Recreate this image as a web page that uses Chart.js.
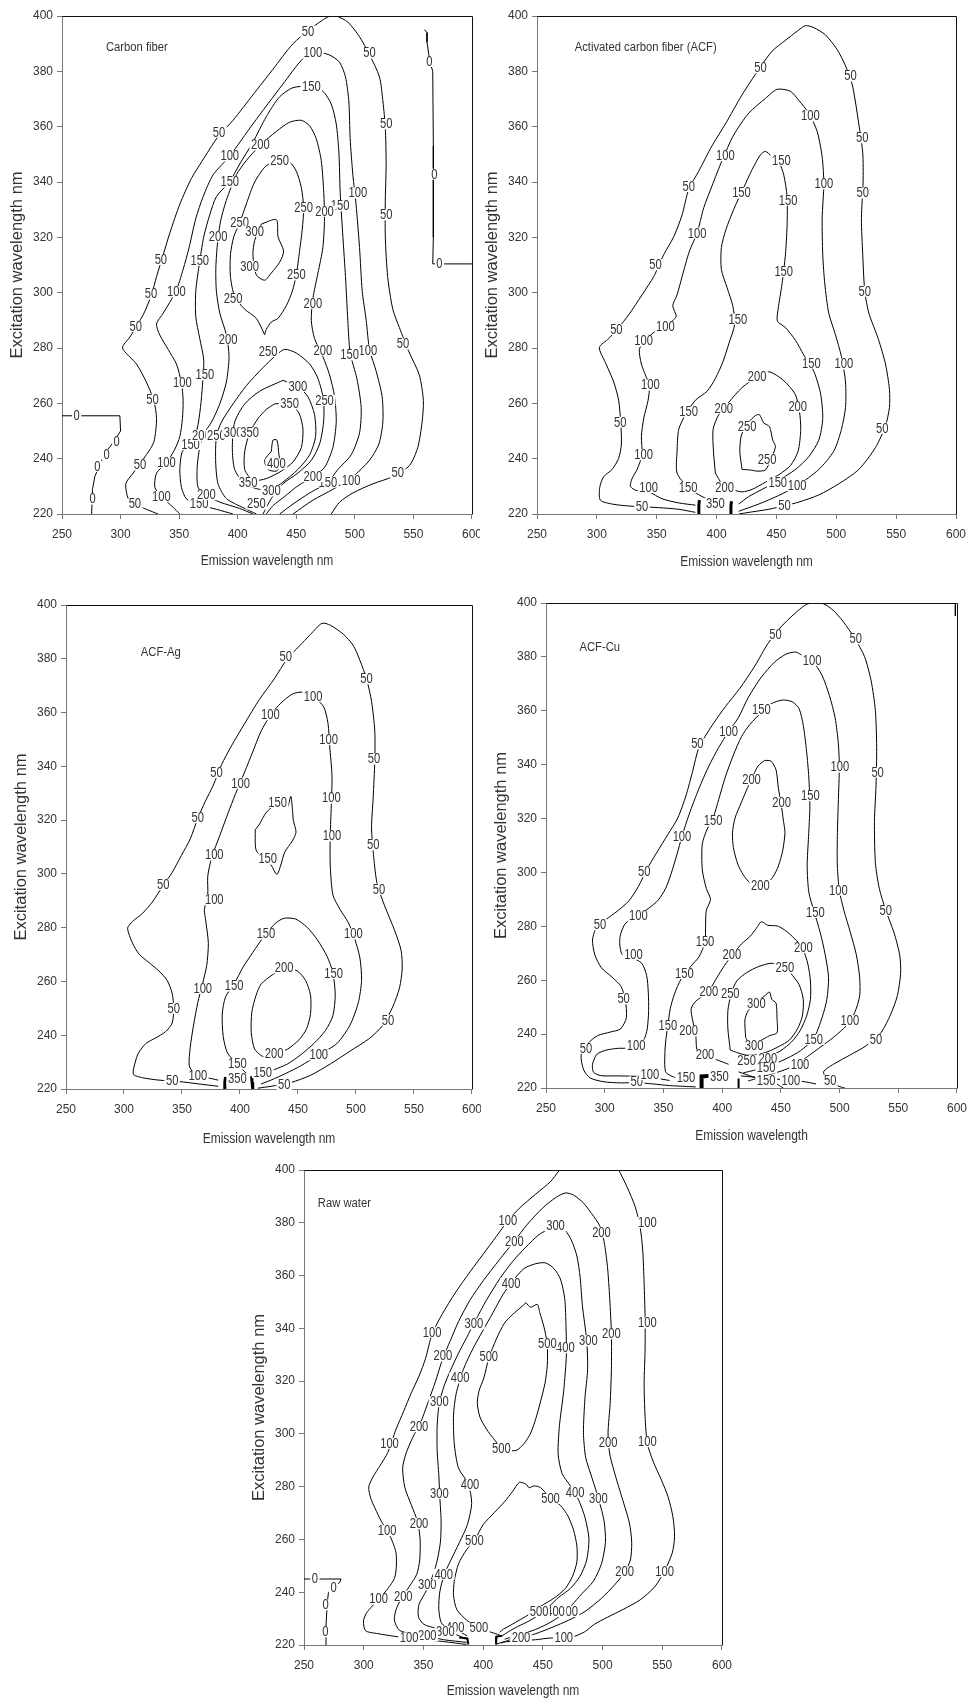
<!DOCTYPE html>
<html>
<head>
<meta charset="utf-8">
<script src="https://cdn.jsdelivr.net/npm/chart.js@4.4.1/dist/chart.umd.min.js"></script>
<style>
  body { margin: 0; background: #fff; width: 975px; height: 1704px; position: relative; overflow: hidden; }
  canvas { position: absolute; background: #fff; }
</style>
</head>
<body>
<canvas id="c1" width="490" height="575" style="left:0;top:0"></canvas>
<canvas id="c2" width="495" height="575" style="left:480px;top:0"></canvas>
<canvas id="c3" width="490" height="572" style="left:0;top:580px"></canvas>
<canvas id="c4" width="494" height="572" style="left:481px;top:580px"></canvas>
<canvas id="c5" width="500" height="552" style="left:240px;top:1152px"></canvas>
<script>
// axis ticks (nm)
const xTicks = [250, 300, 350, 400, 450, 500, 550, 600];
const yTicks = [220, 240, 260, 280, 300, 320, 340, 360, 380, 400];

// ---- Carbon fiber: contour lines as [emission, excitation] ----
const cf50 = [[332,220],[322,221.7],[312,223.6],[306.5,225.6],[304.5,231],[310.8,234.8],[322,241.4],[328.4,246],[330.7,254.5],[328.4,261],[322,267.7],[313.6,274.2],[301.7,280],[308,284],[319.3,292],[326.4,299.2],[330.7,305.8],[336.4,313.7],[342,321.5],[350.6,332],[360.5,341.3],[371.9,349.1],[383.2,356.4],[396,362.3],[413,371.5],[430,380.7],[447,389.9],[461.4,395.1],[477,399.7],[484,400],[494,397.8],[504,392.5],[512.5,386],[521,378],[524,368.9],[526,359.7],[526.7,346.5],[526,333.4],[526,320.2],[528,305.8],[532.4,294],[538,287.4],[546.6,278.2],[555,270.3],[558.5,261],[557.4,253.2],[553.7,244],[546.6,237.5],[532.4,233.5],[515.3,230.9],[498.3,227.6],[487,224.3],[479.8,220]];
const cf100 = [[350.6,220],[344.9,222.4],[335.5,226.1],[329.3,229.6],[330.7,234.8],[339.2,238.5],[346.3,243.4],[350.6,248],[352.8,254.5],[353.4,261.1],[352,267.3],[347.7,274.2],[340.6,279.5],[333.5,284.7],[330.7,288.7],[336.4,292.6],[347.2,300.5],[353.4,308.4],[358.5,316.3],[364.2,326.8],[370.5,334.7],[379,342.6],[393.2,349.4],[413,361],[438.6,375.4],[455.7,384.6],[467,386.9],[478.4,385.9],[486.9,383.3],[492,378],[494.9,368.9],[496,355.7],[498.3,342.6],[501,332],[504,316.3],[506.3,300.5],[509.7,290],[512.5,279.5],[518.2,271.6],[523.3,262.4],[523.9,253.2],[520.5,245.3],[512.5,239.4],[498.3,233.5],[481.2,228.9],[464.2,225],[447.2,220]];
const cf150 = [[396,220],[381.8,221.7],[367,223.3],[356.3,225.4],[352,229.6],[350.6,236.1],[352.8,242.7],[359.7,245.1],[365.3,250.6],[368.2,258.5],[369.9,266.4],[371,275.6],[367.6,283.4],[364.2,291.3],[364.2,300.5],[367,309.7],[371,320.2],[376.1,328.1],[381.8,334.7],[393.2,340.2],[401.7,346.5],[413,354.4],[424.4,363.6],[435.8,370.8],[447.2,374.1],[461.4,374.5],[472.7,372.8],[479.8,368.2],[484.1,361],[486.4,350.5],[487.5,336],[489.8,320.2],[492,305.8],[494,290],[496,278.2],[501.7,269],[505.4,258.5],[504,249.3],[496.9,241.4],[485.5,236.1],[477,231.5],[461.4,227.6],[447.2,223.6],[435.8,220]];
const cf200 = [[413,220],[401.7,222],[384.7,224.3],[373.3,226.7],[366.2,229.6],[365.3,236.1],[367,242.7],[370.5,248.6],[377.6,253.2],[384.7,259.8],[390.3,267.7],[392.6,276.9],[390.3,284.8],[384.7,292.6],[381.8,300.5],[381.3,308.4],[382.4,316.3],[385.2,325.5],[390.3,333.4],[398.9,342.6],[407.4,347.8],[418.8,353.1],[433,358.3],[444.3,361.6],[454.3,362.3],[461.4,360.3],[467,355.7],[471.3,347.8],[473.3,337.3],[474.1,326.8],[472.7,316.3],[468.5,307.1],[464.2,297.9],[462.8,290],[465.6,283.4],[472.7,276.9],[478.4,270.3],[482.7,262.4],[484.1,253.2],[481.2,244],[474.1,236.8],[464.2,233.5],[451.4,230.2],[440,226.3],[430.1,223],[424.4,220]];
const cf250a = [[423,284.8],[415.9,290.7],[406,294],[397.4,298.6],[393.8,305.8],[393.8,313.7],[396.6,320.2],[401.7,325.2],[407.4,332.1],[414.5,340],[424.4,345.9],[435.8,347.8],[444.3,347.2],[450,343.9],[454.3,338],[456.3,330.7],[455.1,322.9],[452.8,315],[450,306.4],[446.6,300.5],[441.5,295.3],[434.4,290.7],[428.7,289.4],[424.4,286.7],[423,284.8]];
const cf300a = [[420.2,324.8],[433,326.4],[434.4,320.2],[439.2,315],[435.8,311],[428.7,307.1],[423,304.5],[415.9,306.4],[413,313.7],[414.5,318.9],[420.2,324.8]];
const cf250b = [[416,220],[404.5,222.3],[390.3,225.6],[383.2,230.9],[381.2,238.8],[381.8,248],[386.1,253.2],[396,259.8],[407.4,266.4],[421.6,272.9],[433,277.5],[440.1,279.5],[450,278.2],[461.4,274.2],[468.5,269],[473.3,261.1],[473.3,253.2],[469.9,245.3],[462.8,239.4],[451.4,234.8],[438.6,230.9],[428.7,225.6],[421.6,220]];
const cf300b = [[438.6,268.3],[451.4,266.1],[459.9,262.4],[465.6,255.9],[466.5,248],[461.4,241.4],[451.4,236.1],[438.6,231.5],[428.7,228.9],[418.8,228.9],[406,230.9],[397.4,236.1],[395.4,244],[397.4,253.2],[406,259.8],[418.8,264.4],[438.6,268.3]];
const cf350 = [[431.5,259.8],[444.3,259.8],[452.3,256.5],[455.7,250.6],[454.3,244],[447.2,238.8],[437.2,235.5],[424.4,232.8],[413,232.2],[406,236.1],[406,242.7],[410.2,249.3],[417.3,254.5],[424.4,257.8],[431.5,259.8]];
const cf400 = [[428.7,242.7],[430.1,246.7],[433.5,246.7],[435.2,241.4],[436.4,237.5],[433,235.5],[425.9,236.1],[423,239.4],[428.7,242.7]];
const cf0a = [[559.4,395.1],[561.6,394],[561.6,390.5],[564,383.6],[566.5,380],[567,353],[567,320],[566.5,310.4],[600,310.4]];
const cf0b = [[250,255.5],[299.4,255.5],[300,250],[294,246],[288,242.7],[282.4,238.1],[278,233.5],[276,228.9],[275.3,220]];
const cfLabels = [[460,394.5,'50'],[384,358,'50'],[334.4,312,'50'],[325.9,299.5,'50'],[313,287.8,'50'],[327.3,261.5,'50'],[316.5,237.7,'50'],[312.2,223.6,'50'],[512.5,386.6,'50'],[526.7,361,'50'],[526.7,328.1,'50'],[541,281.5,'50'],[536.6,234.8,'50'],
  [464.2,386.6,'100'],[393.2,349.4,'100'],[347.7,300.3,'100'],[352.8,267.3,'100'],[339.2,238.5,'100'],[334.9,226.3,'100'],[502.6,336,'100'],[511.1,279.2,'100'],[496.9,232.2,'100'],
  [462.8,374.5,'150'],[393.2,340,'150'],[367.6,311.7,'150'],[371.9,270.3,'150'],[359.7,245.1,'150'],[367,223.6,'150'],[487.5,331.4,'150'],[495.5,277.5,'150'],[477,231.5,'150'],
  [419.3,353.4,'200'],[383.2,320.2,'200'],[391.8,283.2,'200'],[369,248.4,'200'],[373.3,227,'200'],[474.1,329.4,'200'],[464.2,296.2,'200'],[472.7,279.2,'200'],[464.2,233.5,'200'],
  [435.8,347.8,'250'],[401.7,325.2,'250'],[396,297.9,'250'],[456.3,330.7,'250'],[450,306.4,'250'],[425.9,278.8,'250'],[474.1,261.1,'250'],[381.8,248.4,'250'],[415.9,223.6,'250'],
  [414.5,322.2,'300'],[410.2,309.5,'300'],[451.4,266.1,'300'],[396,249.3,'300'],[428.7,228.3,'300'],
  [444.3,259.8,'350'],[410.2,249.3,'350'],[408.8,231.5,'350'],[433,238.1,'400'],
  [563.6,383.6,'0'],[567.9,342.8,'0'],[572.2,310.4,'0'],[262.5,255.5,'0'],[296.6,246,'0'],[288,241.4,'0'],[280.1,237.2,'0'],[276.1,225.4,'0']];

// ---- Activated carbon fiber (ACF) ----
const acf50 = [[382.3,220.6],[368.4,221.7],[351.7,222.3],[337.7,222.6],[323.8,223],[312.7,223.6],[302.9,225],[302.4,229.6],[305.7,233.5],[312.7,236.1],[318.2,240.1],[320.5,245.3],[319.9,253.2],[318.2,261.1],[314.1,267.7],[307.7,274.2],[302.1,280.2],[309.9,283.4],[318.2,287.4],[326.6,292],[337.7,299.2],[347.5,305.8],[355.8,313.7],[364.2,320.2],[371.2,328.1],[376.7,337.3],[385.1,343.9],[396.2,353.1],[407.4,361],[421.3,371.5],[435.2,380.7],[446.4,387.3],[457.5,391.2],[467.3,394.5],[474.2,396.5],[481.2,395.8],[490.9,393.2],[500.7,387.9],[507.7,382],[513.2,375.4],[516,368.9],[518.8,361],[522.1,350.5],[522.4,340],[521,326.8],[522.1,313.7],[523.8,300.5],[527.2,292.6],[535,283.4],[541.1,274.2],[544.4,265],[544.4,258.5],[541.1,251.9],[532.7,244],[518.8,236.1],[502.1,230.9],[485.4,226.9],[468.7,224.3],[456.7,223],[443.6,221.7],[424.1,220.4],[418.5,220]];
const acf100 = [[382.3,223.2],[368.4,224],[354.5,225.5],[343.3,228],[333,228.5],[328,230],[329.4,232.8],[333.6,236.1],[337.7,241.4],[337.2,248],[339.1,254.5],[342.8,261.1],[343.9,266.4],[340.5,270.3],[337.2,274.2],[335.5,279.5],[340.5,282.8],[348.9,286.1],[358.6,288.4],[366.2,291.3],[363.4,295.3],[367,299.2],[371.2,305.8],[377.3,315],[383.7,321.5],[389.3,330.7],[396.2,338.6],[404.6,347.8],[414.3,357],[426.9,364.9],[440.8,370.2],[450.6,373.5],[461.7,372.8],[468.7,369.5],[477,364.9],[484,358.3],[488.2,349.1],[489.6,339.3],[488.2,326.8],[488.7,313.7],[490.4,303.2],[493.7,292.6],[499.3,284.8],[504.3,276.9],[507.7,267.7],[507.7,258.5],[504.3,250.6],[497.9,242.7],[485.4,236.1],[467.3,230.2],[451.9,226.7],[435.2,223.6],[418.5,221]];
const acf150 = [[399,224.3],[387.9,226.3],[376.2,229.6],[367,234.8],[367,242.7],[368.4,250.6],[374,255.9],[382.3,261.1],[392.1,264.4],[399,269],[405.2,274.9],[410.2,281.5],[415.2,288.7],[413.5,295.3],[408.8,301.8],[404,308.4],[404,316.3],[407.9,322.9],[414.3,330.1],[422.7,338],[429.7,344.5],[436.6,349.8],[440.8,351.1],[446.4,349.1],[452,347.2],[456.1,342.6],[458.9,334.7],[458.9,324.2],[457.5,313.7],[454.7,303.2],[451.4,294],[450.8,289.7],[457.5,287.4],[465.9,282.8],[472.8,277.5],[481.2,271.6],[486.8,263.7],[488.7,254.5],[485.4,246.7],[477,240.7],[465.9,236.1],[452,232.2],[438,228.9],[426.9,226.3],[418.5,223.6]];
const acf200 = [[399,234.8],[397.4,242.7],[397.1,250.6],[401.8,255.9],[410.2,260.4],[421.3,265.7],[433.8,269.6],[443.6,271.4],[452,269.6],[458.9,267],[465.9,263.1],[469.2,257.2],[470.3,250.6],[468.1,242.7],[461.7,237.5],[452,234.2],[440.8,231.5],[429.7,228.9],[421.3,228],[413,228.9],[404.6,230.9],[399,234.8]];
const acf250 = [[421.3,236.1],[419.4,242.7],[420.8,248.6],[426.9,253.2],[432.5,255.6],[435.8,255.9],[439.4,252.9],[444.2,251.6],[446.9,246.7],[449.2,244.3],[445,239.4],[440.8,235.9],[433.8,235.5],[428.3,235.9],[421.3,236.1]];
const acfBlobL = [[384.6,220],[385.2,223],[385.6,225]];
const acfBlobR = [[411.5,220],[412,223],[412.5,224.6]];
const acfLabels = [[436.6,381.3,'50'],[376.7,338.4,'50'],[348.9,310.1,'50'],[316.3,286.7,'50'],[319.6,253.2,'50'],[337.7,222.6,'50'],[511.8,378.3,'50'],[521.6,356,'50'],[522.1,336,'50'],[523.8,300.5,'50'],[538.3,251,'50'],[456.7,223,'50'],
  [407.4,349.5,'100'],[383.7,321.5,'100'],[357.2,287.8,'100'],[339.1,282.5,'100'],[344.7,266.6,'100'],[339.1,241.4,'100'],[343.3,229.6,'100'],[478.4,363.9,'100'],[489.6,339.3,'100'],[506.3,274.2,'100'],[467.3,230.2,'100'],
  [454.2,347.8,'150'],[420.8,336,'150'],[459.7,333.4,'150'],[456.1,307.6,'150'],[417.7,290.4,'150'],[376.7,256.9,'150'],[479.2,274.5,'150'],[451.1,231.5,'150'],[376.2,229.6,'150'],
  [433.8,269.6,'200'],[406,258.2,'200'],[467.8,258.7,'200'],[406.8,229.6,'200'],
  [425.5,251.6,'250'],[442.2,239.8,'250'],[399,223.9,'350']];

// ---- ACF-Ag ----
const ag50 = [[381.3,221],[364.2,221.9],[347.2,222.8],[330.1,223.3],[315.9,224.2],[308,225.5],[309.7,230],[312.5,233.4],[318.8,236.9],[327.3,239],[335.8,241.3],[341.5,244.5],[342.9,250],[341.5,255.6],[337.2,260.4],[330.1,263.9],[321.6,267],[313.1,270.1],[307.4,274.2],[303.1,279.8],[307.4,282.3],[315.9,285.3],[324.4,289.5],[333.8,295.7],[341.5,300.5],[349.4,306.8],[357.1,313],[363.6,320.6],[369.9,326.8],[377,333],[384.1,340.6],[392.6,347.6],[404,355.9],[416.8,364.9],[429.5,372.5],[440.9,380.1],[450.9,384.6],[460.8,389.1],[470.7,393.2],[477.8,392.5],[489.2,389.1],[497.7,384.9],[503.4,379.4],[509.1,372.5],[513.4,364.2],[516.2,353.1],[516.2,342],[514.8,328.2],[513.4,317.1],[515.3,306.1],[518.2,296.4],[524.7,288.1],[533.2,279.1],[538.9,271.5],[539.8,264.6],[537.5,257.6],[531.8,250.7],[523.3,243.8],[511.9,238.9],[494.9,234.1],[477.8,229.3],[460.8,225.1],[443.8,222.4],[426.7,221],[415.3,220.3]];
const ag100 = [[381.3,223.3],[369.9,224.4],[361.4,225.5],[356.3,228.6],[357.1,235.5],[360,243.8],[363.6,252.1],[367.6,259],[371.3,265.9],[372.7,274.2],[370.5,282.5],[369.3,286.7],[372.2,292.2],[372.2,299.1],[375.6,306.1],[382.7,314.4],[389.8,322.7],[396,329.6],[404,337.9],[411.1,345.5],[418.2,353.1],[426.7,359.3],[435.2,363.5],[445.2,366.9],[453.7,367.6],[463.6,365.8],[472.2,362.1],[475.9,355.9],[477.3,347.6],[479.3,336.5],[478.7,325.4],[477.8,314.4],[477.8,303.3],[480.1,292.2],[486.4,286.7],[493.5,281.8],[499.1,275.6],[503.4,268.7],[504.8,260.4],[502,252.1],[494.9,243.8],[483.5,236.9],[467.9,232.7],[452.3,228.6],[439.5,225.8],[426.7,223.3],[418.2,221.9]];
const ag150a = [[413.1,316.4],[413.9,308.8],[421,305.4],[426.7,303.3],[431.8,299.8],[435.2,303.3],[438.6,308.1],[445.2,312.3],[448.3,315.5],[446,319.9],[445.2,324],[443.8,328.9],[440.9,324.7],[436.6,325.4],[429.5,325.4],[422.4,322.7],[416.8,318.5],[413.1,316.4]];
const ag150b = [[405.4,225.8],[397.7,229.3],[389.2,233.4],[385.5,239.6],[384.7,247.9],[387.5,254.2],[394.9,259],[402.6,265.3],[411.1,270.8],[421,277],[431,281.8],[438.1,283.5],[448,283.2],[458,280.1],[466.5,275.6],[475,269.4],[480.1,263.2],[482.1,254.9],[480.1,247.3],[473.6,241.7],[463.6,236.9],[452.3,232.7],[440.9,229.3],[429.5,227.2],[419.6,225.8],[412.5,224.4]];
const ag200 = [[418.2,232.4],[412.5,234.9],[409.7,241],[410.2,248.6],[413.9,254.9],[418.2,259],[428.1,262.5],[438.1,265],[449.4,263.9],[456.5,260.4],[460.8,254.9],[460.8,248],[457.4,242.4],[450.9,238.3],[440.9,234.8],[429.5,232.7],[423.9,231.6],[418.2,232.4]];
const agBlobL = [[386.3,220],[386.9,222.5],[387.5,224.5]];
const agBlobR = [[410,224.8],[410.4,222.5],[411,220]];
const agLabels = [[439.5,380.8,'50'],[379.8,337.6,'50'],[363.6,320.9,'50'],[333.8,296,'50'],[342.9,250,'50'],[341.5,223,'50'],[509.1,372.5,'50'],[515.6,342.7,'50'],[514.8,310.8,'50'],[519.9,294.3,'50'],[527.6,245.6,'50'],[438.1,221.7,'50'],
  [426.1,359.2,'100'],[463.1,366,'100'],[476.4,350,'100'],[400.6,333.7,'100'],[478.7,328.2,'100'],[479.3,314.1,'100'],[377.8,307,'100'],[377.8,290.4,'100'],[367.9,257.4,'100'],[497.7,277.7,'100'],[467.9,232.7,'100'],[363.6,224.8,'100'],
  [432.4,326.5,'150'],[423.9,305.5,'150'],[422.4,277.7,'150'],[394.9,258.3,'150'],[480.7,262.9,'150'],[397.7,229.3,'150'],[419.6,226.1,'150'],
  [438.1,265,'200'],[429.5,233,'200'],[397.7,223.7,'350']];

// ---- ACF-Cu ----
const cu50 = [[377.5,220.4],[355.2,220.9],[341.3,221.5],[327.3,222],[313.4,221.9],[299.4,222.3],[287.7,223.7],[282.1,226.7],[279.9,232.2],[285.4,236.4],[293.8,239.4],[305,240.8],[313.4,241.9],[318.4,246],[317.5,252.9],[313.9,257.7],[306.4,261.1],[297.2,264.6],[291.6,269.4],[289.6,274.9],[292.4,279],[300.8,282.4],[310.6,285.6],[320.3,289.3],[328.7,294.8],[335.7,301],[344.1,307.2],[353.8,314.1],[362.2,320.2],[369.2,328.5],[374.8,337.4],[380.3,346.4],[391.5,354.6],[402.7,361.5],[415.2,368.4],[427.8,376.6],[438.9,384.9],[450.1,391.1],[461.3,395.9],[471,399.3],[476.6,400],[486.4,399.7],[494.8,397.2],[503.1,393.1],[512.9,386.9],[521.3,380.1],[526.9,371.1],[530.5,360.1],[531.6,346.4],[531.1,332.6],[529.7,318.9],[530.5,303.7],[533.8,294.1],[539.4,285.9],[546.4,277.6],[551.2,269.4],[552,262.5],[549.2,254.2],[543.6,247.4],[535.2,240.5],[522.7,235.7],[508.7,232.2],[494.8,228.8],[486.4,226],[490.6,222.6],[500.3,220.5],[504.5,220]];
const cu100 = [[355.2,222.8],[344.1,223.6],[332.9,224.2],[321.7,224.4],[309.2,224.5],[296.6,224.6],[290.5,225.8],[289.6,228.8],[293.3,232.5],[300.8,234],[310.6,234.7],[318.9,234.8],[327.3,235.7],[333.4,238],[336.2,241.9],[337.4,248.7],[337.1,255.6],[335.7,261.8],[331.5,266.3],[321.7,268.7],[314.8,269.6],[312.8,273.5],[313.4,276.9],[317.5,281],[325.9,283.4],[337.1,286.6],[345.5,289.7],[351.9,294.1],[356.6,299.6],[361.4,306.5],[365.8,313.4],[371.9,321.6],[380.3,331.2],[388.7,339.5],[397.1,346.4],[405.5,352.3],[413.8,357.4],[422.2,364.9],[433.4,372.5],[444.5,378],[454.3,381],[462.7,381.8],[468.3,380.5],[476.6,378.7],[485,373.2],[491.4,365.6],[496.2,357.4],[499,347.7],[499.8,339.1],[499,327.1],[498.1,313.4],[498.1,302.4],[499.8,293.4],[503.7,285.9],[509.3,277.6],[514.3,269.4],[517.1,261.1],[517.1,254.2],[512.9,248],[505.9,243.2],[494.8,238.8],[482.2,234.7],[472.5,231.6],[464.1,228.8],[452.9,226.7],[441.7,225.1],[430.6,223.7],[422.2,222.6]];
const cu150 = [[377.5,222],[369.2,223.7],[359.4,224],[351.9,226],[351.3,233.6],[352.4,239.1],[353.8,243.2],[355.8,249.4],[359.4,254.9],[365,260.4],[373.4,265.2],[380.3,268.7],[385.4,274.2],[385.9,280.4],[386.5,285.9],[390.1,290],[386.5,294.1],[383.1,301],[383.1,310.6],[387.3,316.1],[392.3,320.2],[397.1,327.1],[402.7,335.4],[409.6,343.6],[416.6,350.5],[423.6,354.9],[433.4,359.4],[441.7,362.6],[451.5,364],[459.9,363.3],[465.5,360.8],[469.1,354.6],[471.9,345],[473.8,335.4],[474.7,324.4],[473.6,313.4],[472.4,302.4],[473.8,292.7],[478,285.9],[483.6,277.6],[487.8,269.4],[490.6,261.1],[489.2,252.9],[485,246],[478,238.4],[466.9,233.9],[455.7,231.1],[445.9,229.2],[436.2,227.4],[426.4,226.5],[418,225.6]];
const cu200a = [[436.2,341.6],[441.7,341.3],[445.9,338.1],[447.9,331.2],[450.1,325.7],[452.3,318.9],[453.5,314.7],[451.5,307.9],[447.9,302.4],[443.1,298.2],[437.5,295.8],[430.6,294.8],[423.6,296.2],[418,299.1],[413.3,303.1],[409.6,309.2],[408.8,314.7],[411,320.2],[416.1,325.7],[420.8,330.6],[425,334.7],[430.6,339.5],[436.2,341.6]];
const cu200b = [[405.5,228.8],[397.1,230.2],[385.4,232],[378.9,233.6],[377.5,239.8],[374.8,245.3],[373.6,249.4],[377.5,252.2],[383.7,254.2],[390.1,257],[395.7,261.1],[402.1,265.5],[409.6,270],[416.6,273.5],[423.6,276.2],[429.2,279.3],[433.4,281.7],[438.9,280.4],[447.3,280.1],[454.3,278.3],[461.3,275.6],[468.3,272.1],[473,266],[475.2,259.7],[475.2,252.9],[471.9,246.7],[466.3,241.2],[459.1,237.1],[450.1,233.9],[440.3,231.6],[430.6,229.8],[422.2,228.4]];
const cu250 = [[406.9,234.1],[404.9,241.9],[404.9,248.7],[407.7,255],[412.4,259.7],[420.8,262.8],[430.6,265],[441.7,266.3],[451.5,265.2],[458.5,262.5],[465.5,258.4],[469.1,252.9],[468.3,246.7],[464.1,241.9],[457.1,237.7],[448.7,235.5],[439,233.5],[429.2,232.3],[420.8,232.2],[412.4,233.2],[406.9,234.1]];
const cu300 = [[420,238.8],[419.4,245.3],[422.2,248.7],[429.2,251.8],[436.2,254.2],[440.3,255.6],[442.3,252.9],[445.9,251.5],[446.7,246],[446.7,240.5],[440.3,239.4],[433.4,237.7],[426.4,235.6],[422.2,237],[420,238.8]];
const cuFan1 = [[414,226],[426,224.2],[437.5,222.9],[446,221.6],[452,220]];
const cuFan2 = [[416,224.5],[440,223.5],[458.5,222.9],[472,222.2],[480,221.5]];
const cuBlock = [[382,220],[382.5,224.3],[389.5,224.5]];
const cuScatR = [[413.8,220],[414,223.5]];
const cuCorner = [[598.6,399.5],[598.6,395.2]];
const cuLabels = [[445.4,388.3,'50'],[378.9,347.7,'50'],[333.7,300.3,'50'],[296,280.6,'50'],[316.1,253.1,'50'],[284,234.7,'50'],[327.3,222.3,'50'],[513.7,386.7,'50'],[532.4,337.2,'50'],[539.4,285.9,'50'],[531,238,'50'],[492,222.9,'50'],
  [405.5,352.3,'100'],[365.8,313.4,'100'],[328.7,283.8,'100'],[324.5,269.6,'100'],[326.8,235.9,'100'],[338.5,225,'100'],[476.6,378.7,'100'],[500.3,339.1,'100'],[498.9,293.4,'100'],[508.7,245,'100'],[466.3,228.8,'100'],[458.5,222.9,'100'],
  [438.9,230.9,'200'],
  [433.4,360.5,'150'],[392.3,319.1,'150'],[385.4,274.2,'150'],[367.8,262.5,'150'],[353.8,243.2,'150'],[369.2,223.7,'150'],[475.2,328.5,'150'],[479.4,285.2,'150'],[478,238,'150'],[437.5,227.4,'150'],[437.5,222.9,'150'],
  [425,334.4,'200'],[450.7,326,'200'],[432.5,295.2,'200'],[408.2,269.4,'200'],[388.7,255.6,'200'],[371.4,241.2,'200'],[385.4,232.2,'200'],[469.1,272.1,'200'],
  [453.5,264.5,'250'],[406.9,254.9,'250'],[420.8,230.2,'250'],
  [429.2,251.3,'300'],[427.2,235.7,'300'],[397.6,224.3,'350']];

// ---- Raw water ----
const rw100a = [[386,220.2],[367,221.3],[350.5,222],[338.1,222.7],[325.7,223.3],[311.9,224.3],[301.5,225.4],[299.8,229.1],[302.3,232.1],[307,234.7],[313.3,237.7],[320.2,241.4],[325.7,245.2],[327.3,249.5],[327.1,254.8],[324.3,258.9],[320.2,262.9],[314.7,266.9],[309.7,271.6],[305.9,275.6],[304.2,279.9],[307.8,283.7],[313.3,287.7],[320.2,293],[327.1,301.8],[333.4,308.5],[339.5,315.2],[346.3,321.9],[351.8,328.6],[357.3,337.9],[365.6,345.3],[376.6,353.4],[389,361.4],[400,368.1],[411,374.8],[420.7,380.8],[430.3,385.5],[444.1,390.9],[456.4,395.6],[463.3,399.6],[463.9,400]];
const rw100b = [[513.6,400],[520.4,393.7],[527.3,386.1],[531.4,378.5],[533.6,369.7],[534.8,357.1],[535.6,344.4],[535.6,331.8],[534.8,319.2],[535.6,306.5],[537.5,296.4],[542.4,289.5],[549.3,282.5],[554.8,276.2],[558.9,268.6],[560.3,261],[558.3,254.8],[552,248.2],[543.8,242.1],[531.5,237.1],[517.7,233.6],[504,230.5],[493,227.8],[485,225],[474.3,223],[455.1,222.6],[444,222],[430,221.6],[416.5,221.1],[411,220.3]];
const rw200 = [[386.3,221],[367,222],[353.2,223.4],[339.5,224.3],[329.8,225.6],[325.7,229.4],[327.1,233.4],[331.2,237.4],[338.1,242.1],[344.4,246.8],[346.9,252.2],[347.2,260.2],[345,266.9],[340,272.9],[334.5,279.6],[332.6,287],[335.3,292.4],[340.8,298.4],[347.7,304.4],[353.2,311.1],[360.1,319.9],[366.2,328.6],[372.5,335.3],[379.4,342.6],[389,350.7],[400,358],[413.8,366.1],[426.2,373.1],[437.2,379.5],[449.6,385.5],[460.6,389.5],[468.8,391.3],[475.7,390.5],[484,387.5],[490.8,383.5],[497.7,378.8],[501.3,372.8],[504.1,363.4],[506,351.3],[507.4,337.9],[507.4,324.5],[506.3,311.1],[504.6,300.4],[506,292.4],[511.5,283],[517.8,273.6],[522.5,266.2],[524.4,258.9],[523.3,252.2],[518.4,247.5],[510.1,242.8],[499.1,237.7],[485.3,232.7],[471.6,229.4],[457.8,226.7],[444.1,224.3],[431.7,222.7],[422,221.9],[415.2,220.7]];
const rw300 = [[386.3,222.2],[378,223.8],[368.4,225.1],[360.1,226.4],[350.5,227.8],[345.8,230.7],[346.3,235.4],[351,239.4],[356,244.1],[360.9,250.8],[364.2,258.9],[364.8,266.9],[363.7,276.3],[362.9,284.3],[361.5,293.7],[361.5,303.1],[363.1,311.1],[367,317.8],[372.5,323.9],[379.4,330.6],[386.3,336.6],[393.1,342.6],[402.8,350.7],[413.8,358.7],[424.8,365.4],[435.8,370.8],[446.8,375.5],[456.4,377.9],[463.3,378.8],[468.8,377.1],[473.8,373.5],[478.5,367.4],[481.2,359.4],[483.1,348.7],[486.7,335.3],[487.5,324.5],[485.3,313.8],[484,300.4],[485.9,291],[491.4,283],[496.9,275],[501.3,266.9],[502.4,258.9],[499.1,250.8],[492.2,244.1],[482.6,239.4],[474,235],[466,231.5],[456,228.5],[446,226.3],[436,224.6],[426,223.3],[418,222.2]];
const rw400 = [[386.5,223.5],[376.6,226],[365.6,228],[362.9,233.4],[363.7,240.1],[367.5,246.8],[373,252.2],[380.2,258.9],[386.8,265.6],[390.4,273.6],[387.6,281],[379.4,287],[375.8,296.4],[375.2,307.1],[377.4,315.2],[383.5,324.5],[391.8,332.6],[400,339.3],[408.3,346],[416.5,352.7],[424.8,358],[434.4,362.7],[444.1,364.5],[452.3,364.8],[459.2,362.7],[464.7,358.7],[468.3,351.3],[469.4,340.6],[469.7,329.9],[467.5,316.5],[463.9,303.1],[462.8,292.4],[466.1,285],[473,280.3],[479.9,275],[485.3,268.3],[488.6,260.2],[486.7,252.2],[481.2,246.1],[473,241.4],[463.3,238.1],[455,234.5],[447,231.5],[438,229],[429,227],[421,225],[416,223.5]];
const rw500a = [[435.8,349.7],[439.9,348],[445.4,349.1],[447.4,346],[450.9,340.6],[453.7,333.9],[453.7,325.9],[451.8,319.2],[448.2,312.5],[444.1,305.8],[439.9,300.4],[434.4,296.4],[427.5,293.7],[416.5,294.4],[409.6,297.7],[402.8,301.8],[397.3,306.4],[395.1,311.8],[396.7,316.5],[400.6,321.2],[404.7,328.6],[411,335.9],[417.9,342],[424.8,345.3],[431.7,348],[435.8,349.7]];
const rw500b = [[413.8,223.8],[405.5,225],[396.4,226.4],[386.3,229.4],[378,233.4],[375.2,238.8],[375.8,244.1],[379.4,250.8],[386.3,256.2],[392.6,259.5],[400,265.6],[409.6,270.3],[417.9,274.3],[424.8,278.3],[430.3,281.6],[435.8,281],[438.5,279.6],[442.7,280.3],[448.2,279.6],[456.4,275.6],[464.7,272.9],[471,268.9],[475.7,263.6],[478.5,257.5],[478.5,251.5],[474.9,246.1],[468.8,241.4],[459.2,237.7],[448.2,234.7],[440,232],[431,229.6],[423,227.5],[417,226],[413.8,224.8]];
const rw0 = [[250,245],[281,245],[280,243.8],[274.7,241.6],[270.5,240],[269.5,236],[268.5,228],[268.4,220]];
const rwScatL = [[380,222.8],[386.8,222.5],[387.6,220.2]];
const rwScatR = [[416,223.5],[411.2,223.2],[410.8,220.2]];
const rwLabels = [[420.7,380.8,'100'],[357.3,338.5,'100'],[321.6,296.4,'100'],[319.6,263.3,'100'],[312.5,237.4,'100'],[537.6,380,'100'],[537.6,342,'100'],[537.6,297.1,'100'],[552,247.8,'100'],[467.5,222.7,'100'],
  [426.2,372.8,'200'],[366.2,329.5,'200'],[346.3,302.7,'200'],[346.3,266,'200'],[333.1,238.5,'200'],[499.1,376.4,'200'],[507.4,337.9,'200'],[504.6,296.7,'200'],[518.4,247.7,'200'],[431.7,222.7,'200'],
  [460.6,378.8,'300'],[392.3,341.7,'300'],[363.4,312.2,'300'],[363.4,277.4,'300'],[353.2,242.8,'300'],[488.1,335.3,'300'],[496.4,275.6,'300'],[471.6,232.7,'300'],
  [423.4,357,'400'],[380.7,321.2,'400'],[389,280.6,'400'],[367,246.8,'400'],[468.8,332.6,'400'],[477.1,277.9,'400'],[460.6,232.7,'400'],
  [404.7,329.2,'500'],[453.7,334.2,'500'],[415.2,294.4,'500'],[456.4,275.6,'500'],[392.6,259.5,'500'],[446.8,232.7,'500'],
  [376.6,226.7,'400'],[368.4,225.1,'300'],[353.2,223.4,'200'],[338.1,222.7,'100'],[396.4,226.4,'500'],
  [259.1,245,'0'],[274.7,241.6,'0'],[268.1,235.2,'0'],[267.9,225,'0']];

const FONT = '"Liberation Sans", Arial, sans-serif';
Chart.defaults.font.family = FONT;

function lineSet(pts, width, tension) {
  return {
    data: pts.map(p => ({ x: p[0], y: p[1] })),
    showLine: true,
    borderColor: '#000',
    borderWidth: width,
    pointRadius: 0,
    pointHoverRadius: 0,
    tension: tension,
    fill: false
  };
}

function decor(p) {
  return {
    id: 'decor',
    afterDatasetsDraw(chart) {
      const { ctx, scales: { x, y } } = chart;
      ctx.save();
      ctx.textAlign = 'center';
      ctx.textBaseline = 'middle';
      ctx.font = '14px ' + FONT;
      p.labels.forEach(([lx, ly, t]) => {
        const px = x.getPixelForValue(lx), py = y.getPixelForValue(ly);
        const w = ctx.measureText(t).width * 0.8;
        ctx.fillStyle = '#fff';
        ctx.fillRect(px - w / 2 - 1.5, py - 5.5, w + 3, 11);
        ctx.fillStyle = '#333';
        ctx.save();
        ctx.translate(px, py + 0.5);
        ctx.scale(0.8, 1);
        ctx.fillText(t, 0, 0);
        ctx.restore();
      });
      ctx.textAlign = 'left';
      ctx.font = '12.5px ' + FONT;
      ctx.translate(x.getPixelForValue(p.name[0]), y.getPixelForValue(p.name[1]));
      ctx.scale(0.9, 1);
      ctx.fillText(p.name[2], 0, 0);
      ctx.restore();
    },
    afterDraw(chart) {
      const { ctx, chartArea: a } = chart;
      const l = Math.round(a.left) + 0.5, t = Math.round(a.top) + 0.5;
      const r = Math.round(a.right) + 0.5, b = Math.round(a.bottom) + 0.5;
      ctx.save();
      ctx.strokeStyle = '#111';
      ctx.lineWidth = 1;
      ctx.beginPath();
      ctx.moveTo(l, t); ctx.lineTo(r, t); ctx.lineTo(r, b);
      ctx.stroke();
      ctx.fillStyle = '#333';
      ctx.textAlign = 'center';
      ctx.textBaseline = 'middle';
      ctx.font = '15px ' + FONT;
      ctx.save();
      ctx.translate((a.left + a.right) / 2, a.bottom + p.xt);
      ctx.scale(0.8, 1);
      ctx.fillText(p.xTitle, 0, 0);
      ctx.restore();
      ctx.font = '16.5px ' + FONT;
      ctx.translate(a.left - 45, (a.top + a.bottom) / 2);
      ctx.rotate(-Math.PI / 2);
      ctx.fillText('Excitation wavelength nm', 0, 0);
      ctx.restore();
    }
  };
}

function axis(min, max, ticks, pad, fit) {
  return {
    type: 'linear', min: min, max: max,
    afterBuildTicks: s => { s.ticks = ticks.map(v => ({ value: v })); },
    afterFit: fit,
    ticks: { color: '#333', font: { size: 12 }, padding: pad, autoSkip: false, maxRotation: 0 },
    grid: { drawOnChartArea: false, drawTicks: true, tickLength: 5, color: '#777' },
    border: { color: '#777' }
  };
}

function makePanel(id, g, thin, thick, labels, name, xTitle) {
  const sets = thin.map(l => lineSet(l[0], 1, l[1]))
    .concat(thick.map(l => lineSet(l[0], l[1], 0)));
  new Chart(document.getElementById(id).getContext('2d'), {
    type: 'scatter',
    data: { datasets: sets },
    options: {
      responsive: false,
      animation: false,
      events: [],
      devicePixelRatio: 1,
      layout: { padding: { left: 0, top: g.top, right: g.right, bottom: 0 } },
      plugins: { legend: { display: false }, tooltip: { enabled: false } },
      scales: {
        x: axis(250, 600, xTicks, 8, s => { s.height = g.xh; }),
        y: axis(220, 400, yTicks, 4, s => { s.width = g.yw; })
      }
    },
    plugins: [decor({ labels: labels, name: name, xTitle: xTitle, xt: g.xt })]
  });
}

const T = 0.25;
makePanel('c1', { top: 16, right: 17, xh: 61, yw: 62, xt: 47 },
  [[cf50, T], [cf100, T], [cf150, T], [cf200, T], [cf250a, T], [cf300a, T], [cf250b, T], [cf300b, T], [cf350, T], [cf400, T], [cf0a, 0], [cf0b, 0]],
  [], cfLabels, [287.5, 388.6, 'Carbon fiber'], 'Emission wavelength nm');

makePanel('c2', { top: 16, right: 19, xh: 61, yw: 57, xt: 48 },
  [[acf50, T], [acf100, T], [acf150, T], [acf200, T], [acf250, T]],
  [[acfBlobL, 3], [acfBlobR, 3]], acfLabels, [281.5, 388.6, 'Activated carbon fiber (ACF)'], 'Emission wavelength nm');

makePanel('c3', { top: 25, right: 13, xh: 63, yw: 66, xt: 50 },
  [[ag50, T], [ag100, T], [ag150a, T], [ag150b, T], [ag200, T]],
  [[agBlobL, 3], [agBlobR, 3]], agLabels, [314.5, 382.4, 'ACF-Ag'], 'Emission wavelength nm');

makePanel('c4', { top: 23, right: 11, xh: 64, yw: 65, xt: 48 },
  [[cu50, T], [cu100, T], [cu150, T], [cu200a, T], [cu200b, T], [cu250, T], [cu300, T], [cuFan1, T], [cuFan2, T], [cuCorner, 0]],
  [[cuBlock, 4], [cuScatR, 2]], cuLabels, [278.5, 383.5, 'ACF-Cu'], 'Emission wavelength');

makePanel('c5', { top: 18, right: 11, xh: 59, yw: 64, xt: 46 },
  [[rw100a, T], [rw100b, T], [rw200, T], [rw300, T], [rw400, T], [rw500a, T], [rw500b, T], [rw0, 0]],
  [[rwScatL, 2], [rwScatR, 2]], rwLabels, [261.6, 387.3, 'Raw water'], 'Emission wavelength nm');
</script>
</body>
</html>
